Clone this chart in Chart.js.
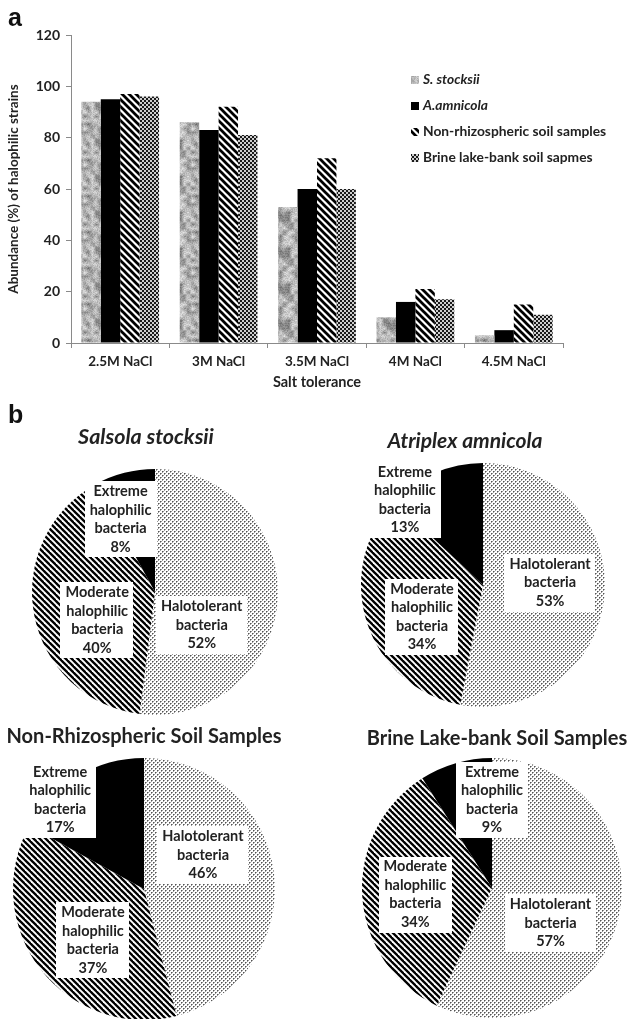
<!DOCTYPE html>
<html>
<head>
<meta charset="utf-8">
<title>Halophilic strains: salt tolerance and class composition</title>
<script src="https://cdn.jsdelivr.net/npm/chart.js@4.4.1/dist/chart.umd.min.js"></script>
<style>
  html, body { margin: 0; padding: 0; background: #fff; }
  #page { position: relative; width: 630px; height: 1019px; overflow: hidden; background: #fff; }
  canvas { position: absolute; }
  .panel { position: absolute; font-family: "Liberation Sans", Arial, sans-serif; font-weight: bold; font-size: 25px; color: #111; line-height: 1; }
  .ptitle { position: absolute; font-family: Lato, sans-serif; font-weight: bold; color: #222; white-space: nowrap; transform: translate(-50%, -50%); line-height: 1; }
</style>
</head>
<body>
<div id="page">
  <canvas id="bars" width="630" height="400" style="left:0;top:0;width:630px;height:400px"></canvas>
  <div class="panel" style="left:8px;top:5px">a</div>
  <div class="panel" style="left:8px;top:402px">b</div>
</div>
<script>
// ---- Panel a: abundance of halophilic strains per NaCl level ----
const categories = ['2.5M NaCl', '3M NaCl', '3.5M NaCl', '4M NaCl', '4.5M NaCl'];
const stocksiiValues = [94, 86, 53, 10, 3];
const amnicolaValues = [95, 83, 60, 16, 5];
const nonRhizoValues = [97, 92, 72, 21, 15];
const brineLakeValues = [96, 81, 60, 17, 11];
const seriesNames = ['S. stocksii', 'A.amnicola', 'Non-rhizospheric soil samples', 'Brine lake-bank soil sapmes'];
const yTickValues = [0, 20, 40, 60, 80, 100, 120];

// ---- Panel b: share of each tolerance class ----
const pieClasses = ['Halotolerant bacteria', 'Moderate halophilic bacteria', 'Extreme halophilic bacteria'];
const salsolaShares = [52, 40, 8];
const atriplexShares = [53, 34, 13];
const nonRhizoShares = [46, 37, 17];
const brineShares = [57, 34, 9];
const pieTitles = ['Salsola stocksii', 'Atriplex amnicola', 'Non-Rhizospheric Soil Samples', 'Brine Lake-bank Soil Samples'];

const FONT = 'Lato, "Open Sans", sans-serif';
const INK = '#222';
const AXIS = '#8a8a8a';

// ---------- fill patterns ----------
function tile(w, h, paint) {
  const c = document.createElement('canvas');
  c.width = w; c.height = h;
  const g = c.getContext('2d');
  paint(g, w, h);
  return g.createPattern(c, 'repeat');
}
function hash(x, y, s) {
  let h = (x * 374761393 + y * 668265263 + s * 2147483647) | 0;
  h = Math.imul(h ^ (h >>> 13), 1274126177);
  h = h ^ (h >>> 16);
  return (h >>> 0) / 4294967295;
}
// mottled grey stone texture
const granite = tile(36, 36, (g, w, h) => {
  const img = g.createImageData(w, h);
  const cell = 4, n = w / cell;
  const lerp = (a, b, t) => a + (b - a) * t;
  for (let y = 0; y < h; y++) for (let x = 0; x < w; x++) {
    const gx = Math.floor(x / cell), gy = Math.floor(y / cell);
    const tx = (x % cell) / cell, ty = (y % cell) / cell;
    const a = hash(gx % n, gy % n, 1), b = hash((gx + 1) % n, gy % n, 1);
    const c = hash(gx % n, (gy + 1) % n, 1), d = hash((gx + 1) % n, (gy + 1) % n, 1);
    const v = lerp(lerp(a, b, tx), lerp(c, d, tx), ty);
    const fine = hash(x, y, 7);
    const lum = Math.round(120 + v * 100 + (fine - 0.5) * 40);
    const i = (y * w + x) * 4;
    img.data[i] = img.data[i + 1] = img.data[i + 2] = Math.max(60, Math.min(240, lum));
    img.data[i + 3] = 255;
  }
  g.putImageData(img, 0, 0);
});
// bold back-slash stripes
function stripes(size, width) {
  return tile(size, size, (g, w) => {
    g.fillStyle = '#fff'; g.fillRect(0, 0, w, w);
    g.strokeStyle = '#000'; g.lineWidth = width;
    for (let k = -w; k <= w; k += w) {
      g.beginPath(); g.moveTo(k - 1, -1); g.lineTo(k + w + 1, w + 1); g.stroke();
    }
  });
}
const barStripes = stripes(7, 2.7);
const pieStripes = stripes(6, 2.3);
// small dark checkerboard
const checker = tile(4, 4, (g) => {
  g.fillStyle = '#cfcfcf'; g.fillRect(0, 0, 4, 4);
  g.fillStyle = '#1a1a1a'; g.fillRect(0, 0, 2, 2); g.fillRect(2, 2, 2, 2);
});
// fine grey stipple
const stipple = tile(4, 4, (g) => {
  g.fillStyle = '#fff'; g.fillRect(0, 0, 4, 4);
  g.fillStyle = '#555'; g.fillRect(0, 0, 1, 1); g.fillRect(2, 2, 1, 1);
  g.fillStyle = '#9a9a9a'; g.fillRect(1, 0, 1, 1); g.fillRect(0, 1, 1, 1); g.fillRect(3, 2, 1, 1); g.fillRect(2, 3, 1, 1);
});

// ---------- bar chart ----------
const sideLegend = {
  id: 'sideLegend',
  afterDraw(chart, args, opts) {
    const ctx = chart.ctx;
    ctx.save();
    chart.data.datasets.forEach((ds, i) => {
      const y = opts.top + i * opts.gap;
      ctx.fillStyle = ds.backgroundColor;
      ctx.fillRect(opts.left, y - 4, 8, 8);
      ctx.font = (i < 2 ? 'italic ' : '') + 'bold ' + opts.size + 'px ' + FONT;
      ctx.fillStyle = INK;
      ctx.textBaseline = 'middle';
      ctx.textAlign = 'left';
      ctx.fillText(ds.label, opts.left + 12, y);
    });
    ctx.restore();
  }
};

new Chart(document.getElementById('bars'), {
  type: 'bar',
  data: {
    labels: categories,
    datasets: [
      { label: seriesNames[0], data: stocksiiValues, backgroundColor: granite },
      { label: seriesNames[1], data: amnicolaValues, backgroundColor: '#000' },
      { label: seriesNames[2], data: nonRhizoValues, backgroundColor: barStripes },
      { label: seriesNames[3], data: brineLakeValues, backgroundColor: checker }
    ]
  },
  options: {
    responsive: false,
    animation: false,
    devicePixelRatio: 1,
    layout: { padding: { left: 0, right: 67, top: 35, bottom: 0 } },
    datasets: { bar: { categoryPercentage: 0.79, barPercentage: 1.0, borderWidth: 0 } },
    plugins: {
      legend: { display: false },
      tooltip: { enabled: false },
      sideLegend: { left: 411, top: 80, gap: 26, size: 13.8 }
    },
    scales: {
      x: {
        afterFit: (s) => { s.height = 57; },
        grid: { display: true, drawOnChartArea: false, drawTicks: true, tickLength: 5, color: AXIS, offset: true },
        border: { display: true, color: AXIS, width: 1 },
        ticks: { color: INK, font: { family: FONT, weight: 'bold', size: 13.5 }, padding: 6, maxRotation: 0 },
        title: { display: true, text: 'Salt tolerance', color: INK, font: { family: FONT, weight: 'bold', size: 14.5 }, padding: { top: 0, bottom: 9 } }
      },
      y: {
        min: 0, max: 120,
        afterFit: (s) => { s.width = 71; },
        afterBuildTicks: (s) => { s.ticks = yTickValues.map(v => ({ value: v })); },
        grid: { display: true, drawOnChartArea: false, drawTicks: true, tickLength: 5, color: AXIS },
        border: { display: true, color: AXIS, width: 1 },
        ticks: { color: INK, font: { family: FONT, weight: 'bold', size: 14 }, padding: 6 },
        title: { display: true, text: 'Abundance (%) of halophilic strains', color: INK, font: { family: FONT, weight: 'bold', size: 13.5 }, padding: { top: 6, bottom: 0 } }
      }
    }
  },
  plugins: [sideLegend]
});

// ---------- pie charts ----------
const boxLabels = {
  id: 'boxLabels',
  afterDatasetsDraw(chart, args, opts) {
    const ctx = chart.ctx;
    const meta = chart.getDatasetMeta(0);
    const values = chart.data.datasets[0].data;
    ctx.save();
    ctx.font = 'bold ' + opts.size + 'px ' + FONT;
    ctx.textAlign = 'center';
    ctx.textBaseline = 'middle';
    meta.data.forEach((arc, i) => {
      const lines = chart.data.labels[i].split(' ').concat(values[i] + '%');
      const [dx, dy] = opts.offsets[i];
      const cx = arc.x + dx * arc.outerRadius;
      const cy = arc.y + dy * arc.outerRadius;
      const w = Math.max(...lines.map(t => ctx.measureText(t).width)) + 2 * opts.padX;
      const h = lines.length * opts.lineHeight + 2 * opts.padY;
      ctx.fillStyle = '#fff';
      ctx.fillRect(Math.round(cx - w / 2), Math.round(cy - h / 2), Math.round(w), Math.round(h));
      ctx.fillStyle = INK;
      lines.forEach((t, k) => {
        ctx.fillText(t, cx, cy - h / 2 + opts.padY + (k + 0.5) * opts.lineHeight);
      });
    });
    ctx.restore();
  }
};

const pieSpecs = [
  { shares: salsolaShares,  title: pieTitles[0], italic: true,  cx: 155, cy: 592, r: 123, tx: 146, ty: 437, tsize: 21.5,
    offsets: [[0.38, 0.27], [-0.47, 0.23], [-0.28, -0.59]] },
  { shares: atriplexShares, title: pieTitles[1], italic: true,  cx: 483, cy: 585, r: 122, tx: 465, ty: 439, tsize: 21,
    offsets: [[0.55, -0.02], [-0.50, 0.26], [-0.64, -0.70]] },
  { shares: nonRhizoShares, title: pieTitles[2], italic: false, cx: 144, cy: 889, r: 131, tx: 144, ty: 735, tsize: 20,
    offsets: [[0.45, -0.26], [-0.39, 0.39], [-0.64, -0.68]] },
  { shares: brineShares,    title: pieTitles[3], italic: false, cx: 492, cy: 888, r: 130, tx: 497, ty: 737, tsize: 20,
    offsets: [[0.45, 0.27], [-0.59, 0.05], [0.0, -0.68]] }
];

const page = document.getElementById('page');
pieSpecs.forEach((p) => {
  const pad = 30;
  const size = 2 * (p.r + pad);
  const cv = document.createElement('canvas');
  cv.width = size; cv.height = size;
  cv.style.left = (p.cx - p.r - pad) + 'px';
  cv.style.top = (p.cy - p.r - pad) + 'px';
  cv.style.width = size + 'px'; cv.style.height = size + 'px';
  page.appendChild(cv);

  const t = document.createElement('div');
  t.className = 'ptitle';
  t.textContent = p.title;
  t.style.left = p.tx + 'px';
  t.style.top = p.ty + 'px';
  t.style.fontSize = p.tsize + 'px';
  if (p.italic) t.style.fontStyle = 'italic';
  page.appendChild(t);

  new Chart(cv, {
    type: 'pie',
    data: {
      labels: pieClasses,
      datasets: [{
        data: p.shares,
        backgroundColor: [stipple, pieStripes, '#000'],
        borderWidth: 0,
        hoverOffset: 0,
        offset: 0
      }]
    },
    options: {
      responsive: false,
      animation: false,
      devicePixelRatio: 1,
      radius: p.r,
      layout: { padding: pad },
      plugins: {
        legend: { display: false },
        tooltip: { enabled: false },
        boxLabels: { offsets: p.offsets, size: 14.5, lineHeight: 18.5, padX: 5, padY: 1 }
      }
    },
    plugins: [boxLabels]
  });
});
</script>
</body>
</html>
